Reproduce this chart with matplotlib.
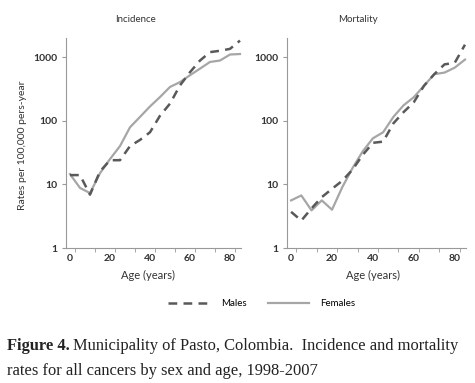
import numpy as np
import matplotlib
matplotlib.use("Agg")
import matplotlib.pyplot as plt
from matplotlib.lines import Line2D

# age groups (start of 5-year band)
ages = [0, 5, 10, 15, 20, 25, 30, 35, 40, 45, 50, 55, 60, 65, 70, 75, 80, 85]

# incidence per 100,000 pers-year
inc_males = [14, 14, 6.9, 16, 24, 24, 40, 50, 66, 120, 186, 360, 580, 885, 1200, 1260, 1350, 1820]
inc_females = [14.5, 8.8, 7.3, 15, 25, 40, 79, 115, 168, 236, 340, 405, 520, 660, 840, 885, 1100, 1120]

# mortality per 100,000 pers-year
mort_males = [3.7, 2.7, 4.2, 6.3, 8.5, 11.4, 17, 29, 45, 47, 91, 137, 196, 356, 540, 770, 815, 1570]
mort_females = [5.6, 6.7, 3.9, 5.6, 4.0, 9, 18, 33, 53, 66, 115, 175, 235, 356, 540, 572, 684, 915]

titles = ["Incidence", "Mortality"]

male_col = "#595959"
female_col = "#a6a6a6"
txt_col = "#333333"
font = "Lato"
serif = "Liberation Serif"

fig = plt.figure(figsize=(4.75, 3.83), dpi=100)
ax1 = fig.add_axes([66/475, 1-248/383, (241-66)/475, (248-38)/383])
ax2 = fig.add_axes([287/475, 1-248/383, (466-287)/475, (248-38)/383])

for ax, m, f, t, tx in [(ax1, inc_males, inc_females, titles[0], 136),
                        (ax2, mort_males, mort_females, titles[1], 358)]:
    ax.plot(ages, f, color=female_col, lw=1.6, clip_on=False)
    ax.plot(ages, m, color=male_col, lw=1.8, ls=(0, (3.5, 2.5)), clip_on=False)
    ax.set_yscale("log")
    ax.set_ylim(1, 2000)
    ax.set_xlim(-2, 85.5)
    ax.set_yticks([1, 10, 100, 1000])
    ax.set_yticklabels(["1", "10", "100", "1000"])
    ax.yaxis.set_minor_locator(plt.NullLocator())
    ax.set_xticks([0, 20, 40, 60, 80])
    ax.set_xticks(np.arange(2.5, 86, 10), minor=True)
    ax.tick_params(axis="x", which="major", length=0, pad=4)
    ax.tick_params(axis="x", which="minor", length=3, color="#999999", direction="out")
    ax.tick_params(axis="y", length=3, color="#999999", pad=3)
    for lab in ax.get_xticklabels() + ax.get_yticklabels():
        lab.set_fontsize(7.5)
        lab.set_family(font)
        lab.set_color(txt_col)
        lab.set_fontweight("bold")
    for s in ["top", "right"]:
        ax.spines[s].set_visible(False)
    for s in ["left", "bottom"]:
        ax.spines[s].set_color("#999999")
        ax.spines[s].set_linewidth(0.8)
    fig.text(tx/475, 1-20/383, t, ha="center", va="center", fontsize=7, family=font, color=txt_col)

fig.text(148/475, 1-275/383, "Age (years)", ha="center", va="center", fontsize=8, family=font, color=txt_col)
fig.text(373/475, 1-275/383, "Age (years)", ha="center", va="center", fontsize=8, family=font, color=txt_col)
fig.text(23/475, 1-145/383, "Rates per 100,000 pers-year", rotation=90, ha="center", va="center",
         fontsize=7.5, family=font, color=txt_col)

handles = [Line2D([], [], color=male_col, lw=1.8, ls=(0, (3.5, 2.5))),
           Line2D([], [], color=female_col, lw=1.6)]
fig.legend(handles, ["Males", "Females"], loc="center", bbox_to_anchor=(262/475, 1-304/383),
           ncol=2, frameon=False, handlelength=4.2, handletextpad=1.2, columnspacing=2.2,
           prop={"family": font, "size": 7})

# caption, bold "Figure 4." followed by normal text
cap = fig.text(7/475, 1-346/383, "Figure 4.", fontsize=11.9, family=serif, weight="bold",
               va="center", color="#222222")
fig.canvas.draw()
bb = cap.get_window_extent().transformed(fig.transFigure.inverted())
fig.text(bb.x1 + 3/475, 1-346/383, "Municipality of Pasto, Colombia.  Incidence and mortality",
         fontsize=11.9, family=serif, va="center", color="#222222")
fig.text(7/475, 1-371/383, "rates for all cancers by sex and age, 1998-2007",
         fontsize=11.9, family=serif, va="center", color="#222222")

fig.savefig("out.png", dpi=100)
